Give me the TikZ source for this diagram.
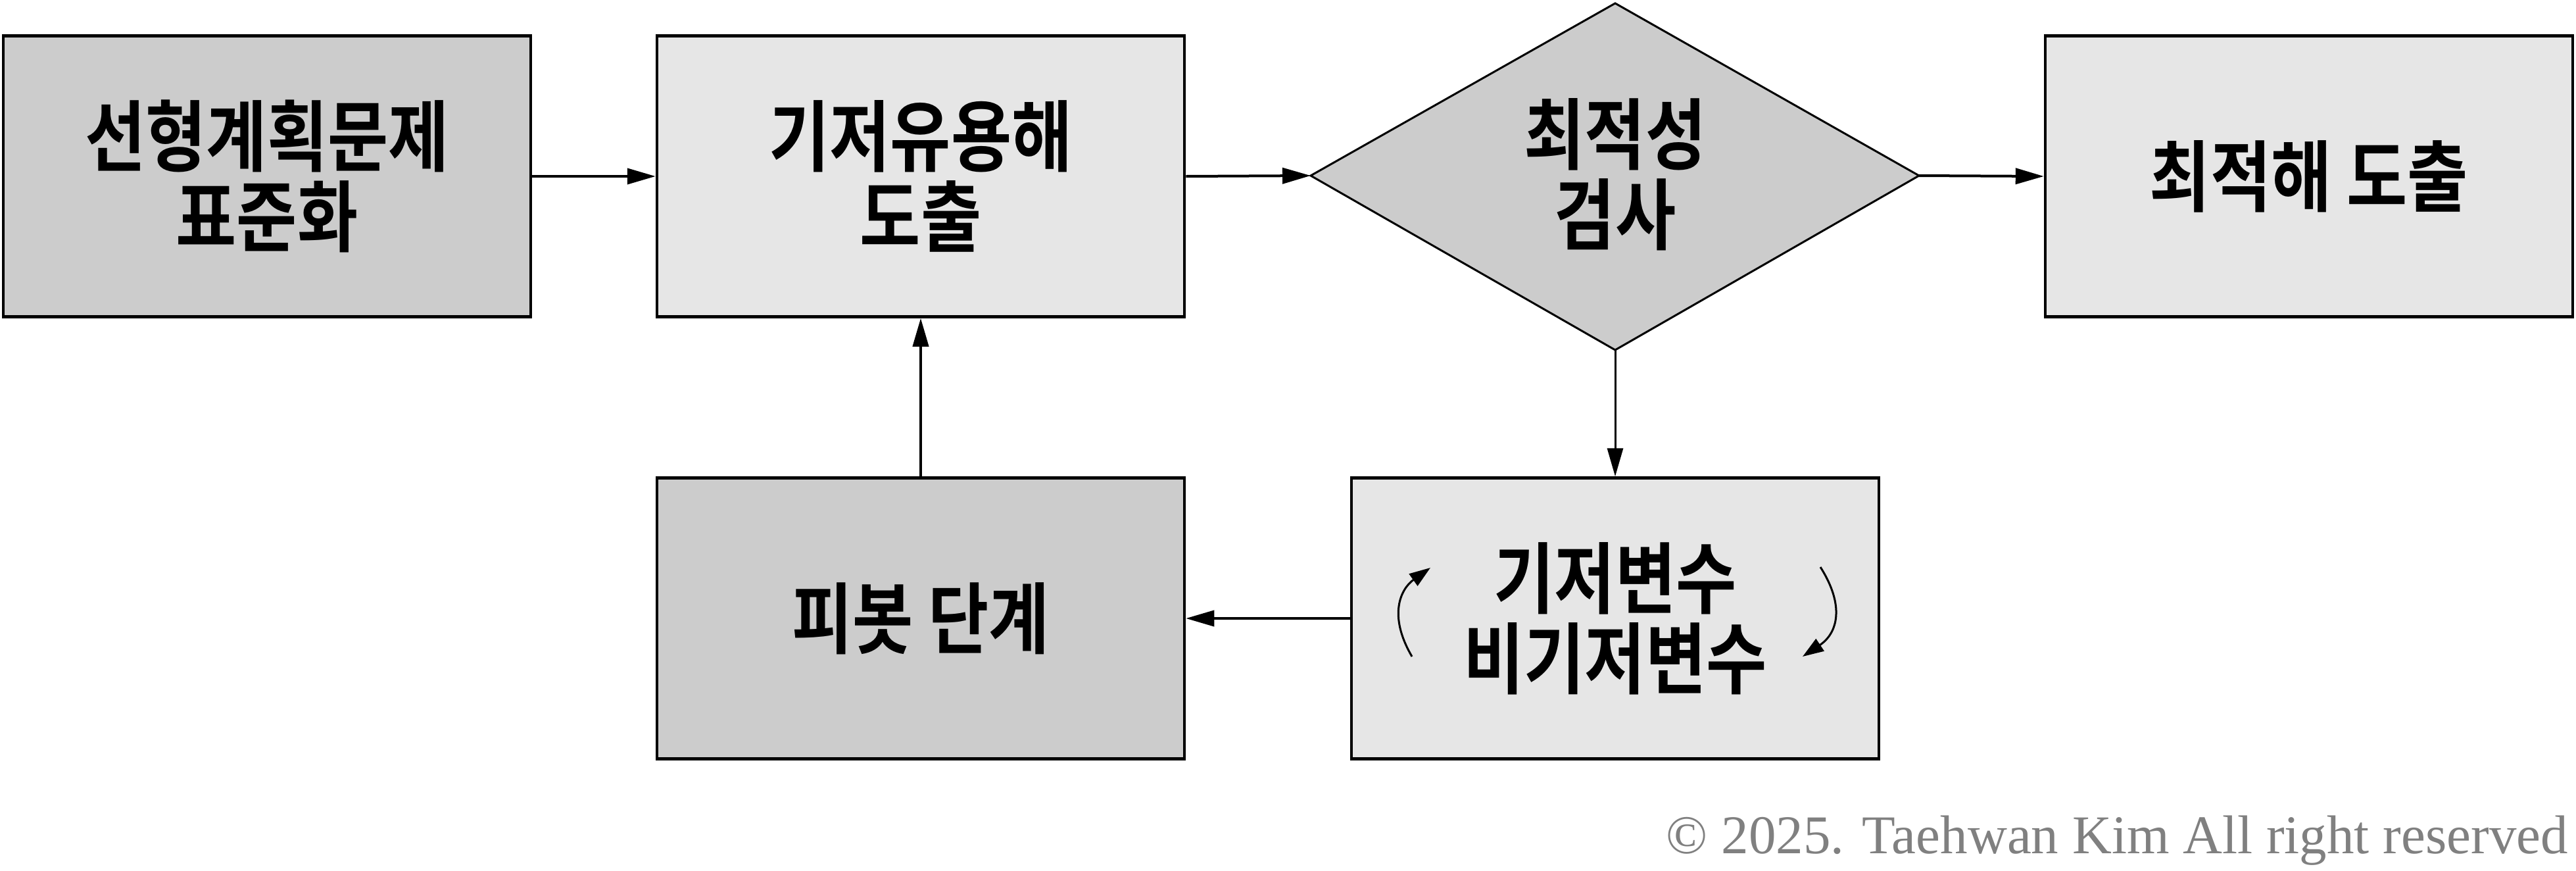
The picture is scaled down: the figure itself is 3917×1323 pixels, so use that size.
\documentclass[tikz,border=0pt]{standalone}
\usepackage{fontspec}
\setmainfont{Liberation Serif}
\newfontfamily\kr[FakeStretch=0.85]{Noto Sans CJK KR Bold}
\usetikzlibrary{arrows.meta}
\definecolor{darkfill}{HTML}{CCCCCC}
\definecolor{lightfill}{HTML}{E6E6E6}
\definecolor{copygray}{HTML}{808080}
\tikzset{
  box/.style={draw=black, line width=4.5pt, minimum width=802pt, minimum height=427pt, inner sep=0pt, align=center, font=\kr\fontsize{118}{122}\selectfont},
  darkbox/.style={box, fill=darkfill},
  lightbox/.style={box, fill=lightfill},
  diabox/.style={draw=black, line width=3pt, fill=darkfill, line join=miter},
  conn/.style={line width=4pt, -{Triangle[length=43pt,width=24pt]}},
  thinconn/.style={line width=3pt, -{Triangle[length=43pt,width=24pt]}},
  curv/.style={line width=3pt, -{Triangle[length=32pt,width=22pt]}},
  dtext/.style={align=center, inner sep=0pt, font=\kr\fontsize{118}{122}\selectfont}
}
\begin{document}
\begin{tikzpicture}[x=1pt,y=-1pt]
\useasboundingbox (0,0) rectangle (3917,1323);
\node[darkbox] (b1) at (406,268) {선형계획문제\\표준화};
\node[lightbox] (b2) at (1400,268) {기저유용해\\도출};
\coordinate (dL) at (1993,267);
\coordinate (dT) at (2456,5);
\coordinate (dR) at (2918,267);
\coordinate (dB) at (2456,532);
\draw[diabox] (dL) -- (dT) -- (dR) -- (dB) -- cycle;
\node[dtext] (dia) at (2456,265) {최적성\\검사};
\node[lightbox] (b4) at (3511,268) {최적해 도출};
\node[darkbox] (b5) at (1400,940) {피봇 단계};
\node[lightbox] (b6) at (2456,940) {기저변수\\비기저변수};
\draw[conn] (b1.east) -- (b2.west);
\draw[conn] (b2.east) -- (dL);
\draw[conn] (dR) -- (b4.west);
\draw[thinconn] (dB) -- (b6.north);
\draw[conn] (b6.west) -- (b5.east);
\draw[conn] (b5.north) -- (b2.south);
\coordinate (la) at (2147,998);
\coordinate (lb) at (2175,863);
\coordinate (ra) at (2768,862);
\coordinate (rb) at (2741,998);
\draw[curv] (la) .. controls (2110,935) and (2130,895) .. (lb);
\draw[curv] (ra) .. controls (2805,920) and (2795,962) .. (rb);
\node[anchor=base east, inner sep=0pt, text=copygray, font=\fontsize{83}{90}\selectfont] (copy) at (3905,1297) {© 2025. Taehwan Kim All right reserved};
\end{tikzpicture}
\end{document}
